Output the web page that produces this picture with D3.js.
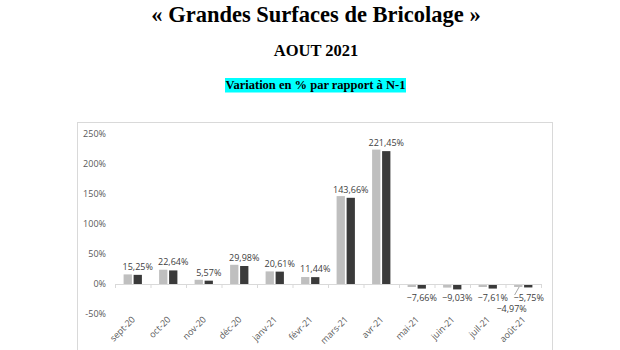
<!DOCTYPE html>
<html>
<head>
<meta charset="utf-8">
<script src="https://cdn.jsdelivr.net/npm/d3@7"></script>
<style>
  body { margin: 0; background: #fff; }
  svg { display: block; }
</style>
</head>
<body>
<div id="chart"></div>
<script>
// données
const months = ["sept-20", "oct-20", "nov-20", "déc-20", "janv-21", "févr-21",
  "mars-21", "avr-21", "mai-21", "juin-21", "juil-21", "août-21"];
const serieN1 = [16.0, 23.8, 7.0, 32.0, 21.0, 11.6, 146.5, 224.0, -5.0, -6.0, -5.0, -4.97];
const serieN = [15.25, 22.64, 5.57, 29.98, 20.61, 11.44, 143.66, 221.45, -7.66, -9.03, -7.61, -5.75];
const yTicks = [-50, 0, 50, 100, 150, 200, 250];

const fmt = v => d3.format(".2f")(v).replace(".", ",") + "%";

const svg = d3.select("#chart").append("svg")
  .attr("width", 620)
  .attr("height", 350);

// titres
const cx = 316;
svg.append("text")
  .attr("x", cx).attr("y", 22)
  .attr("text-anchor", "middle")
  .attr("font-family", "Liberation Serif")
  .attr("font-weight", "bold")
  .attr("font-size", 22.5)
  .text("« Grandes Surfaces de Bricolage »");

svg.append("text")
  .attr("x", cx).attr("y", 56)
  .attr("text-anchor", "middle")
  .attr("font-family", "Liberation Serif")
  .attr("font-weight", "bold")
  .attr("font-size", 16.5)
  .text("AOUT 2021");

svg.append("rect")
  .attr("x", 225).attr("y", 78)
  .attr("width", 181).attr("height", 14.5)
  .attr("fill", "#00ffff");

svg.append("text")
  .attr("x", 315.5).attr("y", 89.3)
  .attr("text-anchor", "middle")
  .attr("font-family", "Liberation Serif")
  .attr("font-weight", "bold")
  .attr("font-size", 12.5)
  .text("Variation en % par rapport à N-1");

// cadre du graphique
svg.append("rect")
  .attr("x", 77.5).attr("y", 122.5)
  .attr("width", 475).attr("height", 240)
  .attr("fill", "none")
  .attr("stroke", "#d9d9d9");

const x = d3.scaleBand().domain(months).range([115, 541]);
const y = d3.scaleLinear().domain([-50, 250]).range([314, 134]);

const g = svg.append("g").attr("font-family", "Open Sans");

// axe y (labels seulement)
g.selectAll(".ytick")
  .data(yTicks)
  .join("text")
  .attr("class", "ytick")
  .attr("x", 106)
  .attr("y", d => y(d) + 3)
  .attr("text-anchor", "end")
  .attr("font-size", 9)
  .attr("fill", "#595959")
  .text(d => d + "%");

const barW = 8.3, gap = 1.7;
const groupW = barW * 2 + gap;
const x0 = d => x(d) + (x.bandwidth() - groupW) / 2;

g.selectAll(".b1")
  .data(months)
  .join("rect")
  .attr("class", "b1")
  .attr("x", d => x0(d))
  .attr("width", barW)
  .attr("y", (d, i) => y(Math.max(0, serieN1[i])))
  .attr("height", (d, i) => Math.abs(y(serieN1[i]) - y(0)))
  .attr("fill", "#bfbfbf");

g.selectAll(".b2")
  .data(months)
  .join("rect")
  .attr("class", "b2")
  .attr("x", d => x0(d) + barW + gap)
  .attr("width", barW)
  .attr("y", (d, i) => y(Math.max(0, serieN[i])))
  .attr("height", (d, i) => Math.abs(y(serieN[i]) - y(0)))
  .attr("fill", "#3a3a3a");

// ligne zéro + graduations
g.append("line")
  .attr("x1", 115).attr("x2", 541)
  .attr("y1", y(0) + 0.5).attr("y2", y(0) + 0.5)
  .attr("stroke", "#d9d9d9");
g.selectAll(".sep")
  .data(d3.range(months.length + 1))
  .join("line")
  .attr("class", "sep")
  .attr("x1", i => 115 + i * x.step() + 0.5)
  .attr("x2", i => 115 + i * x.step() + 0.5)
  .attr("y1", y(0)).attr("y2", y(0) + 4)
  .attr("stroke", "#d9d9d9");

// étiquettes de mois
g.selectAll(".xl")
  .data(months)
  .join("text")
  .attr("class", "xl")
  .attr("transform", d => `translate(${x(d) + x.bandwidth() / 2 + 3},${320}) rotate(-45)`)
  .attr("text-anchor", "end")
  .attr("font-size", 9)
  .attr("fill", "#595959")
  .text(d => d);

// étiquettes de valeurs (série N)
g.selectAll(".vl")
  .data(months)
  .join("text")
  .attr("class", "vl")
  .attr("x", (d, i) => x0(d) + barW * 1.5 + gap + (i === 11 ? 0.5 : 0))
  .attr("y", (d, i) => serieN[i] >= 0 ? y(serieN[i]) - 5 : 301)
  .attr("text-anchor", "middle")
  .attr("font-size", 9)
  .attr("fill", "#404040")
  .text((d, i) => fmt(serieN[i]));

// étiquette déplacée pour août (série N-1)
const last = months[11];
g.append("line")
  .attr("x1", x0(last) + 5).attr("y1", 287)
  .attr("x2", x0(last) + 0.5).attr("y2", 295)
  .attr("stroke", "#a6a6a6");
g.append("text")
  .attr("x", x0(last) - 2.5)
  .attr("y", 311.5)
  .attr("text-anchor", "middle")
  .attr("font-size", 9)
  .attr("fill", "#404040")
  .text(fmt(serieN1[11]));
</script>
</body>
</html>
